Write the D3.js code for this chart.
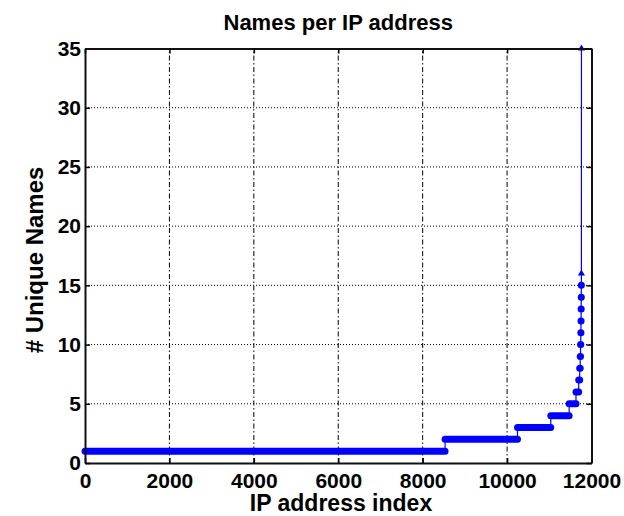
<!DOCTYPE html>
<html>
<head>
<meta charset="utf-8">
<script src="https://cdn.jsdelivr.net/npm/d3@7/dist/d3.min.js"></script>
<style>
  html, body { margin: 0; padding: 0; background: #fff; }
  svg { display: block; }
  text { font-family: "Liberation Sans", Arial, sans-serif; font-weight: bold; fill: #000; }
</style>
</head>
<body>
<svg id="chart" width="624" height="516"></svg>
<script>
// Number of distinct names seen per IP address, sorted ascending.
// Each entry: a value and how many IP addresses have it.
const nameValues = [1, 2, 3, 4, 5, 6, 7, 8, 9, 10, 11, 12, 13, 14, 15, 16, 35];
const ipCounts   = [8530, 1716, 789, 435, 162, 64, 24, 12, 8, 6, 4, 3, 3, 2, 2, 1, 1];

const xTicks = [0, 2000, 4000, 6000, 8000, 10000, 12000];
const yTicks = [0, 5, 10, 15, 20, 25, 30, 35];

const titleText = "Names per IP address";
const xLabelText = "IP address index";
const yLabelText = "# Unique Names";

const W = 624, H = 516;
const plot = { left: 85, right: 591.5, top: 48.5, bottom: 463 };
const blue = "#0000ff";

const svg = d3.select("#chart");

const x = d3.scaleLinear().domain([0, 12000]).range([plot.left, plot.right]);
const y = d3.scaleLinear().domain([0, 35]).range([plot.bottom, plot.top]);

// Runs of equal value along the sorted index
let cursor = 0;
const runs = nameValues.map((v, i) => {
  const first = cursor + 1;
  const last = cursor + ipCounts[i];
  cursor = last;
  return { v, first, last, n: ipCounts[i] };
});

// Grid lines
const grid = svg.append("g").attr("class", "grid");
grid.selectAll("line.hgrid")
  .data(yTicks.filter(t => t > 0 && t < 35))
  .join("line")
  .attr("x1", plot.left).attr("x2", plot.right)
  .attr("y1", d => y(d)).attr("y2", d => y(d))
  .attr("stroke", "#000").attr("stroke-width", 1)
  .attr("stroke-dasharray", "1,2");
grid.selectAll("line.vgrid")
  .data(xTicks.filter(t => t > 0 && t < 12000))
  .join("line")
  .attr("x1", d => x(d)).attr("x2", d => x(d))
  .attr("y1", plot.bottom).attr("y2", plot.top)
  .attr("stroke", "#000").attr("stroke-width", 1)
  .attr("stroke-dasharray", "5,2.5,1.5,2.5");

// Data: thin connecting line
const pts = [];
runs.forEach(r => { pts.push([r.first, r.v]); pts.push([r.last, r.v]); });
const line = d3.line().x(d => x(d[0])).y(d => y(d[1]));
svg.append("path")
  .attr("d", line(pts))
  .attr("fill", "none")
  .attr("stroke", blue)
  .attr("stroke-width", 1.2);

// Dense markers appear as thick bands along each run
svg.append("g").selectAll("path")
  .data(runs.filter(r => r.n > 1))
  .join("path")
  .attr("d", r => line([[r.first, r.v], [r.last, r.v]]))
  .attr("fill", "none")
  .attr("stroke", blue)
  .attr("stroke-width", 7)
  .attr("stroke-linecap", "round");

// Single-point markers
svg.append("g").selectAll("path")
  .data(runs.filter(r => r.n === 1))
  .join("path")
  .attr("transform", r => `translate(${x(r.first)},${y(r.v)})`)
  .attr("d", d3.symbol().type(d3.symbolTriangle).size(22))
  .attr("fill", blue);

// Axes with inward ticks
const tickStyle = g => {
  g.selectAll(".tick line").attr("stroke", "#000").attr("stroke-width", 1.5);
  g.select(".domain").attr("stroke", "#111").attr("stroke-width", 2);
  g.selectAll("text").style("font-size", "21px").style("font-weight", "bold")
    .style("font-family", '"Liberation Sans", Arial, sans-serif').attr("fill", "#000");
};

svg.append("g")
  .attr("transform", `translate(0,${plot.bottom})`)
  .call(d3.axisBottom(x).tickValues(xTicks).tickFormat(d3.format("d"))
    .tickSize(-5).tickSizeOuter(0).tickPadding(10))
  .call(tickStyle);

svg.append("g")
  .attr("transform", `translate(${plot.left},0)`)
  .call(d3.axisLeft(y).tickValues(yTicks).tickFormat(d3.format("d"))
    .tickSize(-5).tickSizeOuter(0).tickPadding(4))
  .call(tickStyle);

svg.append("g")
  .attr("transform", `translate(0,${plot.top})`)
  .call(d3.axisTop(x).tickValues(xTicks).tickSize(-5).tickSizeOuter(0).tickFormat(""))
  .call(tickStyle);

svg.append("g")
  .attr("transform", `translate(${plot.right},0)`)
  .call(d3.axisRight(y).tickValues(yTicks).tickSize(-5).tickSizeOuter(0).tickFormat(""))
  .call(tickStyle);

// Title and axis labels
svg.append("text")
  .attr("x", (plot.left + plot.right) / 2).attr("y", 30)
  .attr("text-anchor", "middle")
  .style("font-size", "22px")
  .text(titleText);

svg.append("text")
  .attr("x", 341).attr("y", 511)
  .attr("text-anchor", "middle")
  .style("font-size", "23px")
  .text(xLabelText);

svg.append("text")
  .attr("transform", "translate(43,260) rotate(-90)")
  .attr("text-anchor", "middle")
  .style("font-size", "24px")
  .text(yLabelText);
</script>
</body>
</html>
